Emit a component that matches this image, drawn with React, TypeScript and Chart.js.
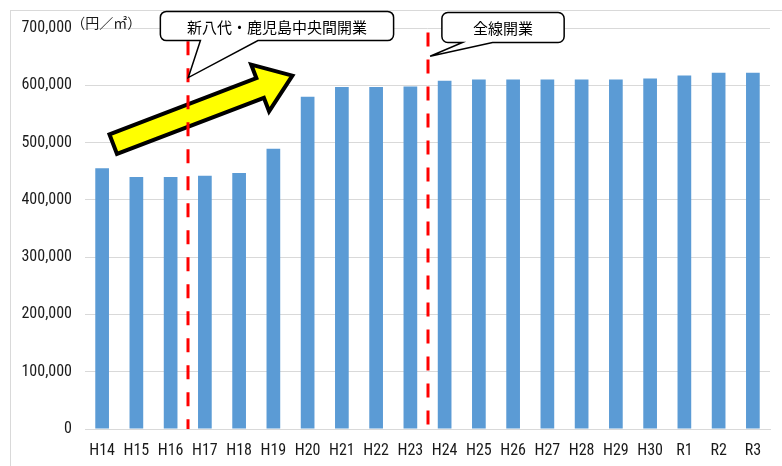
import React, { useEffect, useRef } from "react";
import { Chart, registerables } from "chart.js";

Chart.register(...registerables);

// ---- data ----
const categories = ["H14", "H15", "H16", "H17", "H18", "H19", "H20", "H21", "H22", "H23", "H24", "H25", "H26", "H27", "H28", "H29", "H30", "R1", "R2", "R3"];
const landPrices = [455000, 440000, 440000, 442000, 447000, 489000, 580000, 597000, 597000, 598000, 608000, 610000, 610000, 610000, 610000, 610000, 612000, 617000, 622000, 622000];
const yMin = 0;
const yMax = 700000;
const yStep = 100000;
const unitLabel = "（円／㎡）";
const eventLabels = ["新八代・鹿児島中央間開業", "全線開業"];

// ---- annotation geometry (category index, value) ----
const eventMarkers = [
  { at: 2.5, from: 677000 },
  { at: 9.5, from: 692000 },
];
const callouts = [
  { text: eventLabels[0], box: [1.7, 729000, 8.51, 678000], tail: [2.87, 4.55], tip: [2.516, 613500] },
  { text: eventLabels[1], box: [9.92, 727000, 13.49, 674700], tail: [10.52, 11.4], tip: [9.576, 650800] },
];
const trendArrow = { from: [0.27, 496000], to: [5.65, 619000] };
const unitPos = [-0.9, 709000];

const FONT_NUM = "'Roboto Condensed', 'Liberation Sans', sans-serif";
const FONT_JP = "'Noto Sans CJK JP', sans-serif";
const BAR_COLOR = "#5b9bd5";
const GRID_COLOR = "#d9d9d9";
const TEXT_COLOR = "#1a1a1a";

const annotationPlugin = {
  id: "annotations",
  beforeDraw(chart: any) {
    const ctx = chart.ctx;
    ctx.save();
    ctx.strokeStyle = GRID_COLOR;
    ctx.lineWidth = 1;
    ctx.strokeRect(10.5, 10.5, chart.width + 50, chart.height + 50);
    ctx.restore();
  },
  afterDatasetsDraw(chart: any) {
    const ctx = chart.ctx;
    const xs = chart.scales.x;
    const ys = chart.scales.y;
    const X = (i: number) => xs.getPixelForValue(i);
    const Y = (v: number) => ys.getPixelForValue(v);

    // trend arrow
    ctx.save();
    const tx = X(trendArrow.from[0]);
    const ty = Y(trendArrow.from[1]);
    const hx = X(trendArrow.to[0]);
    const hy = Y(trendArrow.to[1]);
    const L = Math.hypot(hx - tx, hy - ty);
    ctx.translate(tx, ty);
    ctx.rotate(Math.atan2(hy - ty, hx - tx));
    const sw = 10.5;
    const hw = 25;
    const base = L - 38;
    ctx.beginPath();
    ctx.moveTo(2, -sw);
    ctx.lineTo(base, -sw);
    ctx.lineTo(base, -hw);
    ctx.lineTo(L - 3.5, 0);
    ctx.lineTo(base, hw);
    ctx.lineTo(base, sw);
    ctx.lineTo(2, sw);
    ctx.closePath();
    ctx.fillStyle = "#ffff00";
    ctx.fill();
    ctx.lineWidth = 4;
    ctx.lineJoin = "miter";
    ctx.strokeStyle = "#000000";
    ctx.stroke();
    ctx.restore();

    // red dashed event lines
    ctx.save();
    ctx.strokeStyle = "#ff0000";
    ctx.lineWidth = 3;
    ctx.setLineDash([14, 13]);
    eventMarkers.forEach((m) => {
      const x = Math.round(X(m.at));
      ctx.beginPath();
      ctx.moveTo(x, Y(m.from));
      ctx.lineTo(x, Y(0));
      ctx.stroke();
    });
    ctx.restore();

    // callouts
    callouts.forEach((c) => {
      const x1 = X(c.box[0]);
      const y1 = Y(c.box[1]);
      const x2 = X(c.box[2]);
      const y2 = Y(c.box[3]);
      const bl = X(c.tail[0]);
      const br = X(c.tail[1]);
      const px = X(c.tip[0]);
      const py = Y(c.tip[1]);
      const r = 6;
      ctx.save();
      ctx.beginPath();
      ctx.moveTo(x1 + r, y1);
      ctx.lineTo(x2 - r, y1);
      ctx.arcTo(x2, y1, x2, y1 + r, r);
      ctx.lineTo(x2, y2 - r);
      ctx.arcTo(x2, y2, x2 - r, y2, r);
      ctx.lineTo(br, y2);
      ctx.lineTo(px, py);
      ctx.lineTo(bl, y2);
      ctx.lineTo(x1 + r, y2);
      ctx.arcTo(x1, y2, x1, y2 - r, r);
      ctx.lineTo(x1, y1 + r);
      ctx.arcTo(x1, y1, x1 + r, y1, r);
      ctx.closePath();
      ctx.fillStyle = "#ffffff";
      ctx.fill();
      ctx.lineWidth = 1.5;
      ctx.strokeStyle = "#000000";
      ctx.stroke();
      ctx.fillStyle = "#000000";
      ctx.font = `15px ${FONT_JP}`;
      ctx.textAlign = "center";
      ctx.textBaseline = "middle";
      ctx.fillText(c.text, (x1 + x2) / 2, (y1 + y2) / 2 + 1);
      ctx.restore();
    });

    // unit label
    ctx.save();
    ctx.fillStyle = TEXT_COLOR;
    ctx.font = `14px ${FONT_JP}`;
    ctx.textAlign = "left";
    ctx.textBaseline = "middle";
    ctx.fillText(unitLabel, X(unitPos[0]), Y(unitPos[1]));
    ctx.restore();
  },
};

export default function App() {
  const canvasRef = useRef<HTMLCanvasElement | null>(null);

  useEffect(() => {
    if (!canvasRef.current) return;
    const chart = new Chart(canvasRef.current, {
      type: "bar",
      data: {
        labels: categories,
        datasets: [
          {
            data: landPrices,
            backgroundColor: BAR_COLOR,
            borderWidth: 0,
            barPercentage: 0.4,
            categoryPercentage: 1.0,
          },
        ],
      },
      options: {
        animation: false,
        responsive: false,
        devicePixelRatio: 1,
        layout: { padding: { top: 28, right: 12, bottom: 0, left: 0 } },
        plugins: {
          legend: { display: false },
          tooltip: { enabled: false },
        },
        scales: {
          x: {
            grid: { display: false, drawTicks: false },
            border: { display: true, color: GRID_COLOR },
            ticks: {
              autoSkip: false,
              maxRotation: 0,
              padding: 12,
              color: TEXT_COLOR,
              font: { family: FONT_NUM, size: 16 },
            },
            afterFit: (s: any) => {
              s.height = 37;
            },
          },
          y: {
            min: yMin,
            max: yMax,
            grid: { color: GRID_COLOR, lineWidth: 1, drawTicks: false },
            border: { display: false },
            ticks: {
              stepSize: yStep,
              padding: 13,
              color: TEXT_COLOR,
              font: { family: FONT_NUM, size: 16 },
              callback: (v: any) => Number(v).toLocaleString("en-US"),
            },
            afterFit: (s: any) => {
              s.width = 85;
            },
          },
        },
      },
      plugins: [annotationPlugin],
    });
    return () => chart.destroy();
  }, []);

  return (
    <div style={{ position: "fixed", left: 0, top: 0, width: 782, height: 466, background: "#ffffff" }}>
      <canvas ref={canvasRef} width={782} height={466} style={{ display: "block" }} />
    </div>
  );
}
